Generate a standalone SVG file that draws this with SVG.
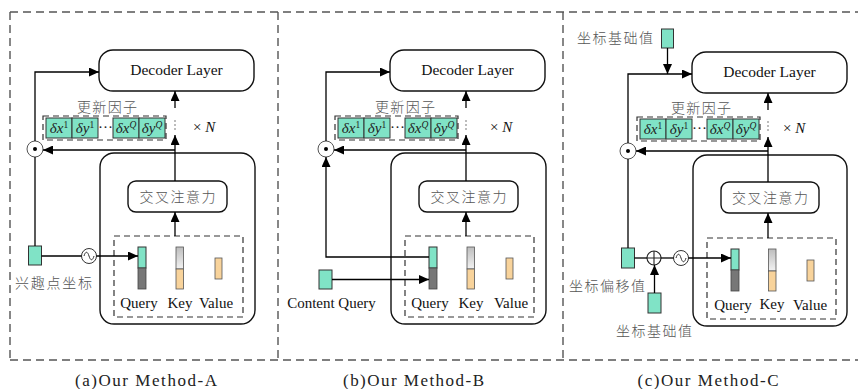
<svg xmlns="http://www.w3.org/2000/svg" xmlns:xlink="http://www.w3.org/1999/xlink" width="858" height="389" viewBox="0 0 858 389">
<style>
.pdash{fill:none;stroke:#555;stroke-width:1.4;stroke-dasharray:8 5}
.idash{fill:none;stroke:#333;stroke-width:1.2;stroke-dasharray:6 4}
.box{fill:#fff;stroke:#111;stroke-width:1.4}
.frame{fill:none;stroke:#111;stroke-width:1.4}
.ln{fill:none;stroke:#000;stroke-width:1.3}
.arr{fill:none;stroke:#000;stroke-width:1.3;marker-end:url(#ah)}
.teal{fill:#80e3c6;stroke:#333;stroke-width:1}
.tan{fill:#f8d39b;stroke:#555;stroke-width:0.8}
.dark{fill:#777;stroke:#444;stroke-width:0.8}
.grad{fill:url(#kg);stroke:#555;stroke-width:0.8}
.t{font-family:"Liberation Serif",serif;fill:#111;font-size:15px}
.dl{font-family:"Liberation Serif",serif;fill:#111;font-size:15.5px;text-anchor:middle}
.lab{font-family:"Liberation Serif",serif;fill:#111;font-size:15px;text-anchor:middle}
.cn{font-family:"Noto Sans CJK SC",sans-serif;fill:#555;font-size:14px;font-weight:300;text-anchor:middle}
.cap{font-family:"Liberation Serif",serif;fill:#222;font-size:17px;text-anchor:middle}
.mt{font-family:"Liberation Serif",serif;fill:#222;font-size:15px;text-anchor:middle}
.odot{fill:#fff;stroke:#555;stroke-width:1}
.dots{fill:#666}
</style>
<defs>
<marker id="ah" viewBox="0 0 10 9" markerWidth="10" markerHeight="9" refX="10" refY="4.5" orient="auto" markerUnits="userSpaceOnUse">
<path d="M0,0 L10,4.5 L0,9 z" fill="#000"/>
</marker>
<linearGradient id="kg" x1="0" y1="0" x2="0" y2="1">
<stop offset="0" stop-color="#bdbdbd"/>
<stop offset="1" stop-color="#f2f2f2"/>
</linearGradient>
<g id="upd">
<rect class="idash" x="0" y="0" width="123" height="24"/>
<rect class="teal" x="3" y="2" width="26" height="20"/>
<rect class="teal" x="29" y="2" width="26" height="20"/>
<rect class="teal" x="70" y="2" width="26" height="20"/>
<rect class="teal" x="96" y="2" width="26" height="20"/>
<text class="mt" x="16" y="17"><tspan font-style="italic">δx</tspan><tspan font-size="9.5" dy="-5">1</tspan></text>
<text class="mt" x="42" y="17"><tspan font-style="italic">δy</tspan><tspan font-size="9.5" dy="-5">1</tspan></text>
<text class="mt" x="62.5" y="16" font-size="11">···</text>
<text class="mt" x="83" y="17"><tspan font-style="italic">δx</tspan><tspan font-size="9.5" dy="-5" font-style="italic">Q</tspan></text>
<text class="mt" x="109" y="17"><tspan font-style="italic">δy</tspan><tspan font-size="9.5" dy="-5" font-style="italic">Q</tspan></text>
</g>
<g id="odot">
<circle class="odot" cx="0" cy="0" r="8"/>
<circle cx="0" cy="0" r="2" fill="#000"/>
</g>
<g id="sine">
<circle cx="0" cy="0" r="7.5" fill="#fff" stroke="#333" stroke-width="1"/>
<path d="M-5,0 C-3.5,-5 -1.5,-5 0,0 S3.5,5 5,0" fill="none" stroke="#333" stroke-width="1"/>
</g>
<g id="vdots">
<circle cx="0" cy="0" r="0.8" class="dots"/>
<circle cx="0" cy="4" r="0.8" class="dots"/>
<circle cx="0" cy="8" r="0.8" class="dots"/>
</g>
</defs>

<g id="panels">
<path class="pdash" d="M10,12 H858 M10,360 H858 M10,12 V360 M278,12 V360 M563,12 V360"/>
</g>

<!-- ===== Panel A ===== -->
<g id="decA">
<rect class="box" x="99" y="50" width="155" height="41" rx="14"/>
<text class="dl" x="176.5" y="75">Decoder Layer</text>
</g>
<g id="updA"><use xlink:href="#upd" x="43" y="116"/>
<text class="cn" x="107" y="112" textLength="60" lengthAdjust="spacing">更新因子</text>
<use xlink:href="#vdots" x="175" y="121"/>
<text class="t" x="193" y="132" fill="#333">× <tspan font-style="italic">N</tspan></text>
</g>
<g id="odotA"><use xlink:href="#odot" x="35" y="149"/></g>
<g id="blockA">
<rect class="frame" x="100" y="153" width="155" height="171" rx="14"/>
</g>
<g id="caA">
<rect class="box" x="128" y="181" width="99" height="31" rx="8"/>
<text class="cn" x="177.5" y="202" textLength="76" lengthAdjust="spacing">交叉注意力</text>
</g>
<g id="qkvA">
<rect class="idash" x="114" y="236" width="129" height="81"/>
<rect class="teal" x="138" y="247" width="8" height="21"/>
<rect class="dark" x="138" y="268" width="8" height="21"/>
<rect class="grad" x="176" y="247" width="7.5" height="22"/>
<rect class="tan" x="176" y="269" width="7.5" height="20"/>
<rect class="tan" x="215" y="258" width="7" height="21"/>
<text class="lab" x="139" y="308">Query</text>
<text class="lab" x="180" y="308">Key</text>
<text class="lab" x="216" y="308">Value</text>
</g>
<g id="poiA">
<rect class="teal" x="28.5" y="246" width="13" height="19"/>
<text class="cn" x="53.5" y="288" textLength="77" lengthAdjust="spacing">兴趣点坐标</text>
</g>
<g id="sineA"><use xlink:href="#sine" x="89" y="256"/></g>
<g id="capA"><text class="cap" x="146" y="386" textLength="142" lengthAdjust="spacing">(a)Our Method-A</text></g>

<!-- ===== Panel B ===== -->
<g id="decB">
<rect class="box" x="390" y="50" width="155" height="41" rx="14"/>
<text class="dl" x="467.5" y="75">Decoder Layer</text>
</g>
<g id="updB"><use xlink:href="#upd" x="335" y="116"/>
<text class="cn" x="405" y="112" textLength="60" lengthAdjust="spacing">更新因子</text>
<use xlink:href="#vdots" x="466" y="121"/>
<text class="t" x="490" y="132" fill="#333">× <tspan font-style="italic">N</tspan></text>
</g>
<g id="odotB"><use xlink:href="#odot" x="326" y="149"/></g>
<g id="blockB">
<rect class="frame" x="391" y="153" width="155" height="171" rx="14"/>
</g>
<g id="caB">
<rect class="box" x="419" y="181" width="99" height="31" rx="8"/>
<text class="cn" x="468.5" y="202" textLength="76" lengthAdjust="spacing">交叉注意力</text>
</g>
<g id="qkvB">
<rect class="idash" x="405" y="236" width="129" height="81"/>
<rect class="teal" x="429" y="247" width="8" height="21"/>
<rect class="dark" x="429" y="268" width="8" height="21"/>
<rect class="grad" x="467" y="247" width="7.5" height="22"/>
<rect class="tan" x="467" y="269" width="7.5" height="20"/>
<rect class="tan" x="506" y="258" width="7" height="21"/>
<text class="lab" x="430" y="308">Query</text>
<text class="lab" x="471" y="308">Key</text>
<text class="lab" x="511" y="308">Value</text>
</g>
<g id="cqB">
<rect class="teal" x="319" y="270" width="13" height="19"/>
<text class="lab" x="331.5" y="308">Content Query</text>
</g>
<g id="capB"><text class="cap" x="413.5" y="386" textLength="141" lengthAdjust="spacing">(b)Our Method-B</text></g>

<!-- ===== Panel C ===== -->
<g id="baseTopC">
<rect class="teal" x="661.5" y="29" width="12" height="19"/>
<text class="cn" x="615" y="43" textLength="76" lengthAdjust="spacing">坐标基础值</text>
</g>
<g id="decC">
<rect class="box" x="692" y="52" width="155" height="41" rx="14"/>
<text class="dl" x="769.5" y="77">Decoder Layer</text>
</g>
<g id="updC"><use xlink:href="#upd" x="637" y="117"/>
<text class="cn" x="701" y="113" textLength="60" lengthAdjust="spacing">更新因子</text>
<use xlink:href="#vdots" x="768" y="122"/>
<text class="t" x="783" y="133" fill="#333">× <tspan font-style="italic">N</tspan></text>
</g>
<g id="odotC"><use xlink:href="#odot" x="628" y="151"/></g>
<g id="blockC">
<rect class="frame" x="693" y="155" width="154" height="171" rx="14"/>
</g>
<g id="caC">
<rect class="box" x="721" y="182" width="98" height="31" rx="8"/>
<text class="cn" x="770" y="203" textLength="76" lengthAdjust="spacing">交叉注意力</text>
</g>
<g id="qkvC">
<rect class="idash" x="707" y="238" width="129" height="81"/>
<rect class="teal" x="731" y="249" width="8" height="21"/>
<rect class="dark" x="731" y="270" width="8" height="21"/>
<rect class="grad" x="768.5" y="249" width="7.5" height="22"/>
<rect class="tan" x="768.5" y="271" width="7.5" height="20"/>
<rect class="tan" x="807" y="260" width="7" height="21"/>
<text class="lab" x="733" y="310">Query</text>
<text class="lab" x="772" y="309">Key</text>
<text class="lab" x="810" y="310">Value</text>
</g>
<g id="offsetC">
<rect class="teal" x="621.5" y="248" width="13" height="20"/>
<text class="cn" x="607" y="291" textLength="76" lengthAdjust="spacing">坐标偏移值</text>
</g>
<g id="plusC">
<circle cx="654" cy="258" r="7" fill="#fff" stroke="#222" stroke-width="1.1"/>
<path d="M647,258 H661 M654,251 V265" stroke="#222" stroke-width="1.1"/>
</g>
<g id="sineC"><use xlink:href="#sine" x="681" y="258"/></g>
<g id="baseBotC">
<rect class="teal" x="648" y="293" width="13" height="20"/>
<text class="cn" x="654" y="336" textLength="76" lengthAdjust="spacing">坐标基础值</text>
</g>
<g id="capC"><text class="cap" x="708" y="386" textLength="141" lengthAdjust="spacing">(c)Our Method-C</text></g>

<g id="connectors">
<!-- Panel A -->
<path class="arr" d="M35,141 V72 H99"/>
<path class="ln" d="M35,157 V246"/>
<path class="ln" d="M41.5,256 H81.5"/>
<path class="arr" d="M96.5,256 H138"/>
<path class="arr" d="M175,236 V212"/>
<path class="arr" d="M175,181 V135"/>
<path class="arr" d="M175,150 H43"/>
<path class="arr" d="M175,108 V91"/>
<!-- Panel B -->
<path class="arr" d="M326,141 V72 H390"/>
<path class="arr" d="M429,257 H326 V157"/>
<path class="arr" d="M332,279.5 H429"/>
<path class="arr" d="M466,236 V212"/>
<path class="arr" d="M466,181 V135"/>
<path class="arr" d="M466,150 H334"/>
<path class="arr" d="M466,108 V91"/>
<!-- Panel C -->
<path class="arr" d="M667.5,48 V74"/>
<path class="arr" d="M628,143 V74 H692"/>
<path class="ln" d="M628,159 V248"/>
<path class="ln" d="M634.5,258 H647"/>
<path class="ln" d="M661,258 H673.5"/>
<path class="arr" d="M688.5,258 H731"/>
<path class="arr" d="M654.5,293 V265"/>
<path class="arr" d="M768,238 V213"/>
<path class="arr" d="M768,182 V137"/>
<path class="arr" d="M768,151 H636"/>
<path class="arr" d="M768,110 V93"/>
</g>
</svg>
